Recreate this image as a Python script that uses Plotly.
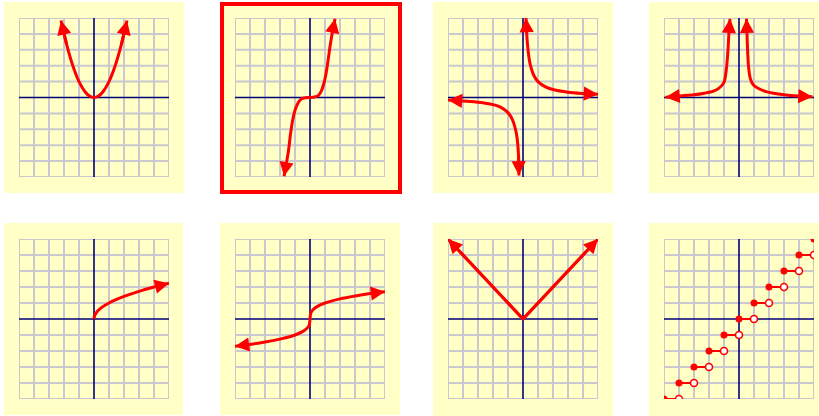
import plotly.graph_objects as go

# ---------------- data ----------------
grid_ticks = [-5, -4, -3, -2, -1, 0, 1, 2, 3, 4, 5]
# 1: parabola
parab_x = [-2.2, -1.8, -1.4, -1.0, -0.6, -0.3, 0.0, 0.3, 0.6, 1.0, 1.4, 1.8, 2.2]
parab_y = [4.84, 3.24, 1.96, 1.0, 0.36, 0.09, 0.0, 0.09, 0.36, 1.0, 1.96, 3.24, 4.84]
# 2: cubic
cubic_x = [-1.73, -1.55, -1.44, -1.3, -1.15, -1.0, -0.85, -0.7, -0.5, -0.3, 0.0,
           0.3, 0.55, 0.75, 0.9, 1.05, 1.2, 1.35, 1.5, 1.67]
cubic_y = [-4.95, -4.0, -3.4, -2.3, -1.4, -0.8, -0.45, -0.2, -0.06, -0.01, 0.0,
           0.03, 0.12, 0.4, 0.8, 1.4, 2.3, 3.3, 4.15, 4.95]
# 3: reciprocal (two branches)
recip_xr = [0.2, 0.25, 0.3, 0.4, 0.5, 0.7, 1.0, 1.5, 2.0, 3.0, 4.0, 5.0]
recip_yr = [5.0, 4.0, 3.33, 2.5, 2.0, 1.43, 1.0, 0.67, 0.5, 0.33, 0.25, 0.2]
recip_xl = [-5.0, -4.0, -3.0, -2.0, -1.5, -1.0, -0.7, -0.5, -0.4, -0.3, -0.27]
recip_yl = [-0.15, -0.22, -0.3, -0.45, -0.6, -0.95, -1.4, -2.0, -2.5, -3.6, -4.9]
# 4: reciprocal squared (two branches)
rsq_xr = [0.5, 0.53, 0.57, 0.63, 0.75, 0.95, 1.27, 1.7, 2.3, 3.0, 3.9, 4.9]
rsq_yr = [4.95, 4.1, 3.05, 2.0, 1.2, 0.8, 0.58, 0.4, 0.27, 0.17, 0.09, 0.04]
rsq_xl = [-4.9, -3.9, -3.0, -2.3, -1.7, -1.35, -1.0, -0.84, -0.73, -0.67, -0.6]
rsq_yl = [0.02, 0.1, 0.17, 0.27, 0.4, 0.57, 0.95, 1.8, 3.05, 4.1, 4.95]
# 5: square root
sqrt_x = [0.0, 0.05, 0.2, 0.5, 1.0, 1.5, 2.0, 3.0, 4.0, 5.0]
sqrt_y = [0.0, 0.22, 0.45, 0.71, 1.0, 1.22, 1.41, 1.73, 2.0, 2.24]
# 6: cube root
cbrt_x = [-5.0, -4.0, -3.0, -2.0, -1.0, -0.5, -0.2, -0.05, 0.0, 0.05, 0.2, 0.5, 1.0, 2.0, 3.0, 4.0, 5.0]
cbrt_y = [-1.71, -1.59, -1.44, -1.26, -1.0, -0.79, -0.58, -0.37, 0.0, 0.37, 0.58, 0.79, 1.0, 1.26, 1.44, 1.59, 1.71]
# 7: absolute value
abs_x = [-5.0, 0.0, 5.0]
abs_y = [5.0, 0.0, 5.0]
# 8: greatest integer (floor)
step_x = [-5, -4, -3, -2, -1, 0, 1, 2, 3, 4, 5]
step_y = [-5, -4, -3, -2, -1, 0, 1, 2, 3, 4, 5]

# ---------------- style ----------------
W, H = 819, 416
RED = "#FF0000"
YELLOW = "#FFFFC6"
GRID = "#C8C8CE"
AXIS = "#00007A"

# panel layout in pixels: background box, grid box
panels = [
    ((4, 2, 184, 193), (19, 18, 169, 177)),
    ((222, 4, 400, 192), (235, 18, 385, 177)),
    ((433, 2, 613, 193), (448, 18, 598, 177)),
    ((649, 2, 819, 193), (664, 18, 814, 177)),
    ((4, 223, 183, 415), (19, 239, 169, 399)),
    ((220, 223, 400, 415), (235, 239, 385, 399)),
    ((433, 223, 613, 416), (448, 239, 598, 399)),
    ((649, 223, 819, 416), (664, 239, 814, 399)),
]

fig = go.Figure()
shapes = []
annotations = []

def px_x(p):
    return p / W

def px_y(p):
    return 1 - p / H

lo, hi = grid_ticks[0], grid_ticks[-1]
for i, (bg, gr) in enumerate(panels):
    n = "" if i == 0 else str(i + 1)
    shapes.append(dict(type="rect", xref="paper", yref="paper",
                       x0=px_x(bg[0]), x1=px_x(bg[2]), y0=px_y(bg[3]), y1=px_y(bg[1]),
                       fillcolor=YELLOW, line=dict(width=0), layer="below"))
    ax_common = dict(range=[lo, hi], showticklabels=False, ticks="",
                     showgrid=False, zeroline=False, showline=False, fixedrange=True)
    fig.layout["xaxis" + n] = dict(domain=[px_x(gr[0]), px_x(gr[2])],
                                   anchor="y" + n, **ax_common)
    fig.layout["yaxis" + n] = dict(domain=[px_y(gr[3]), px_y(gr[1])],
                                   anchor="x" + n, **ax_common)
    # grid lines
    for v in grid_ticks:
        if v == 0:
            continue
        shapes.append(dict(type="line", xref="x" + n, yref="y" + n, x0=v, x1=v, y0=lo, y1=hi,
                           line=dict(color=GRID, width=2), layer="below"))
        shapes.append(dict(type="line", xref="x" + n, yref="y" + n, x0=lo, x1=hi, y0=v, y1=v,
                           line=dict(color=GRID, width=2), layer="below"))
    # axes
    shapes.append(dict(type="line", xref="x" + n, yref="y" + n, x0=0, x1=0, y0=lo, y1=hi,
                       line=dict(color=AXIS, width=1.6), layer="below"))
    shapes.append(dict(type="line", xref="x" + n, yref="y" + n, x0=lo, x1=hi, y0=0, y1=0,
                       line=dict(color=AXIS, width=1.6), layer="below"))

# red highlight frame around panel 2
shapes.append(dict(type="rect", xref="paper", yref="paper",
                   x0=px_x(222), x1=px_x(400), y0=px_y(192), y1=px_y(4),
                   line=dict(color=RED, width=4), fillcolor="rgba(0,0,0,0)"))

def curve(xs, ys, k, shape="spline"):
    n = "" if k == 1 else str(k)
    fig.add_trace(go.Scatter(x=xs, y=ys, mode="lines", xaxis="x" + n, yaxis="y" + n,
                             line=dict(color=RED, width=3, shape=shape, smoothing=0.8),
                             hoverinfo="skip", showlegend=False))

def arrow(xs, ys, k, end):
    n = "" if k == 1 else str(k)
    if end == "last":
        tip, tail = (xs[-1], ys[-1]), (xs[-2], ys[-2])
    else:
        tip, tail = (xs[0], ys[0]), (xs[1], ys[1])
    annotations.append(dict(x=tip[0], y=tip[1], ax=tail[0], ay=tail[1],
                            xref="x" + n, yref="y" + n, axref="x" + n, ayref="y" + n,
                            text="", showarrow=True, arrowhead=2, arrowsize=0.95,
                            arrowwidth=3, arrowcolor=RED, standoff=0))

curve(parab_x, parab_y, 1); arrow(parab_x, parab_y, 1, "first"); arrow(parab_x, parab_y, 1, "last")
curve(cubic_x, cubic_y, 2); arrow(cubic_x, cubic_y, 2, "first"); arrow(cubic_x, cubic_y, 2, "last")
curve(recip_xr, recip_yr, 3); arrow(recip_xr, recip_yr, 3, "first"); arrow(recip_xr, recip_yr, 3, "last")
curve(recip_xl, recip_yl, 3); arrow(recip_xl, recip_yl, 3, "first"); arrow(recip_xl, recip_yl, 3, "last")
curve(rsq_xr, rsq_yr, 4); arrow(rsq_xr, rsq_yr, 4, "first"); arrow(rsq_xr, rsq_yr, 4, "last")
curve(rsq_xl, rsq_yl, 4); arrow(rsq_xl, rsq_yl, 4, "first"); arrow(rsq_xl, rsq_yl, 4, "last")
curve(sqrt_x, sqrt_y, 5); arrow(sqrt_x, sqrt_y, 5, "last")
curve(cbrt_x, cbrt_y, 6); arrow(cbrt_x, cbrt_y, 6, "first"); arrow(cbrt_x, cbrt_y, 6, "last")
curve(abs_x, abs_y, 7, shape="linear"); arrow(abs_x, abs_y, 7, "first"); arrow(abs_x, abs_y, 7, "last")

# floor function: segments, open right ends, filled left ends
seg_x, seg_y = [], []
for xv, yv in zip(step_x[:-1], step_y[:-1]):
    seg_x += [xv, xv + 1, None]
    seg_y += [yv, yv, None]
fig.add_trace(go.Scatter(x=seg_x, y=seg_y, mode="lines", xaxis="x8", yaxis="y8",
                         line=dict(color=RED, width=2), hoverinfo="skip", showlegend=False))
fig.add_trace(go.Scatter(x=[v + 1 for v in step_x[:-1]], y=step_y[:-1], mode="markers",
                         xaxis="x8", yaxis="y8",
                         marker=dict(symbol="circle", size=7, color="white",
                                     line=dict(color=RED, width=1.6)),
                         hoverinfo="skip", showlegend=False))
fig.add_trace(go.Scatter(x=step_x, y=step_y, mode="markers", xaxis="x8", yaxis="y8",
                         marker=dict(symbol="circle", size=7, color=RED),
                         hoverinfo="skip", showlegend=False))

fig.update_layout(width=W, height=H, margin=dict(l=0, r=0, t=0, b=0),
                  paper_bgcolor="white", plot_bgcolor="rgba(0,0,0,0)",
                  shapes=shapes, annotations=annotations, showlegend=False)

fig.write_html("out.html", config={"displayModeBar": False},
               post_script="document.body.style.margin='0';document.body.style.padding='0';")
